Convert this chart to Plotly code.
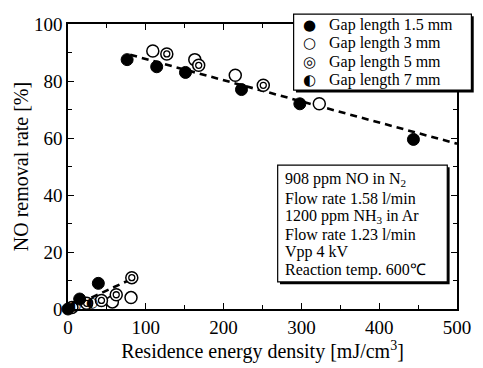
import plotly.graph_objects as go

# Residence energy density [mJ/cm3] and NO removal rate [%] per gap length
gap15_x = [0, 15, 39, 76, 114, 151, 223, 298, 444]
gap15_y = [0, 3.5, 9, 87.5, 85, 83, 77, 72, 59.5]
gap3_x = [5, 57, 81, 109, 163, 215, 323]
gap3_y = [0.5, 2.5, 4, 90.5, 87.5, 82, 72]
gap5_x = [24, 43, 62, 82, 127, 168, 251]
gap5_y = [2, 3, 5, 11, 89.5, 85.5, 78.5]
gap7_x = [9, 31]
gap7_y = [1, 2]

# Trend lines (dashed)
fit_high_x = [80, 500]
fit_high_y = [89.2, 58.0]
fit_low_x = [30, 88]
fit_low_y = [4.0, 11.3]

legend_labels = ["Gap length 1.5 mm", "Gap length 3 mm", "Gap length 5 mm", "Gap length 7 mm"]
legend_glyphs = ["\u25CF", "\u25CB", "\u25CE", "\u25D0"]
conditions = [
    "908 ppm NO in N<sub>2</sub>",
    "Flow rate 1.58 l/min",
    "1200 ppm NH<sub>3</sub> in Ar",
    "Flow rate 1.23 l/min",
    "Vpp 4 kV",
    "Reaction temp. 600\u2103",
]

SERIF = "Liberation Serif, Times New Roman, serif"
GLYPH = "DejaVu Sans, sans-serif"

fig = go.Figure()

for xs, ys in [(fit_high_x, fit_high_y), (fit_low_x, fit_low_y)]:
    fig.add_trace(go.Scatter(x=xs, y=ys, mode="lines",
                             line=dict(color="black", width=2.6, dash="7px,5px"),
                             showlegend=False, hoverinfo="skip"))

fig.add_trace(go.Scatter(x=gap3_x, y=gap3_y, mode="markers",
                         marker=dict(symbol="circle", size=12, color="white",
                                     line=dict(color="black", width=1.5)),
                         cliponaxis=False, showlegend=False))
fig.add_trace(go.Scatter(x=gap5_x, y=gap5_y, mode="markers",
                         marker=dict(symbol="circle", size=12, color="white",
                                     line=dict(color="black", width=1.5)),
                         cliponaxis=False, showlegend=False))
fig.add_trace(go.Scatter(x=gap5_x, y=gap5_y, mode="markers",
                         marker=dict(symbol="circle", size=6, color="white",
                                     line=dict(color="black", width=1.3)),
                         cliponaxis=False, showlegend=False))
fig.add_trace(go.Scatter(x=gap7_x, y=gap7_y, mode="text", text=["\u25D0"] * len(gap7_x),
                         textfont=dict(family=GLYPH, size=14, color="black"),
                         textposition="middle center", cliponaxis=False, showlegend=False))
fig.add_trace(go.Scatter(x=gap15_x, y=gap15_y, mode="markers",
                         marker=dict(symbol="circle", size=12, color="black",
                                     line=dict(color="black", width=1)),
                         cliponaxis=False, showlegend=False))

# Boxes with a drop shadow
def boxed(x0, y0, x1, y1):
    fig.add_shape(type="rect", xref="paper", yref="paper",
                  x0=x0 + 0.006, y0=y0 - 0.008, x1=x1 + 0.006, y1=y1 - 0.008,
                  fillcolor="black", line=dict(width=0), layer="above")
    fig.add_shape(type="rect", xref="paper", yref="paper",
                  x0=x0, y0=y0, x1=x1, y1=y1,
                  fillcolor="white", line=dict(color="black", width=1.2), layer="above")

boxed(0.58, 0.768, 1.037, 1.035)
leg_y = [0.996, 0.932, 0.867, 0.803]
for lab, gl, yy in zip(legend_labels, legend_glyphs, leg_y):
    fig.add_annotation(x=0.62, y=yy, xref="paper", yref="paper", text=gl, showarrow=False,
                       font=dict(family=GLYPH, size=15, color="black"),
                       xanchor="center", yanchor="middle")
    fig.add_annotation(x=0.665, y=yy, xref="paper", yref="paper", text=lab, showarrow=False,
                       font=dict(family=SERIF, size=16, color="black"),
                       xanchor="left", yanchor="middle")

boxed(0.539, 0.095, 0.975, 0.505)
cond_y = [0.453, 0.389, 0.326, 0.263, 0.200, 0.137]
for txt, yy in zip(conditions, cond_y):
    fig.add_annotation(x=0.552, y=yy, xref="paper", yref="paper", text=txt, showarrow=False,
                       font=dict(family=SERIF, size=16, color="black"),
                       xanchor="left", yanchor="middle")

axis_common = dict(showline=True, linecolor="black", linewidth=1.5, mirror="ticks",
                   ticks="inside", ticklen=6, tickwidth=1.3, tickcolor="black",
                   showgrid=False, zeroline=False,
                   tickfont=dict(family=SERIF, size=19, color="black"))

fig.update_xaxes(range=[0, 500], dtick=100, tick0=0,
                 minor=dict(dtick=50, ticks="inside", ticklen=4, tickcolor="black", tickwidth=1.2),
                 title=dict(text="Residence energy density [mJ/cm<sup>3</sup>]",
                            font=dict(family=SERIF, size=20, color="black"), standoff=4),
                 ticklabelstandoff=0,
                 **axis_common)
fig.update_yaxes(range=[0, 100], dtick=20, tick0=0,
                 minor=dict(dtick=10, ticks="inside", ticklen=4, tickcolor="black", tickwidth=1.2),
                 title=dict(text="NO removal rate [%]",
                            font=dict(family=SERIF, size=20, color="black"), standoff=0),
                 **axis_common)

fig.update_layout(width=483, height=368, margin=dict(l=68, r=20, t=24, b=59),
                  paper_bgcolor="white", plot_bgcolor="white", showlegend=False)

fig.write_html("out.html")
